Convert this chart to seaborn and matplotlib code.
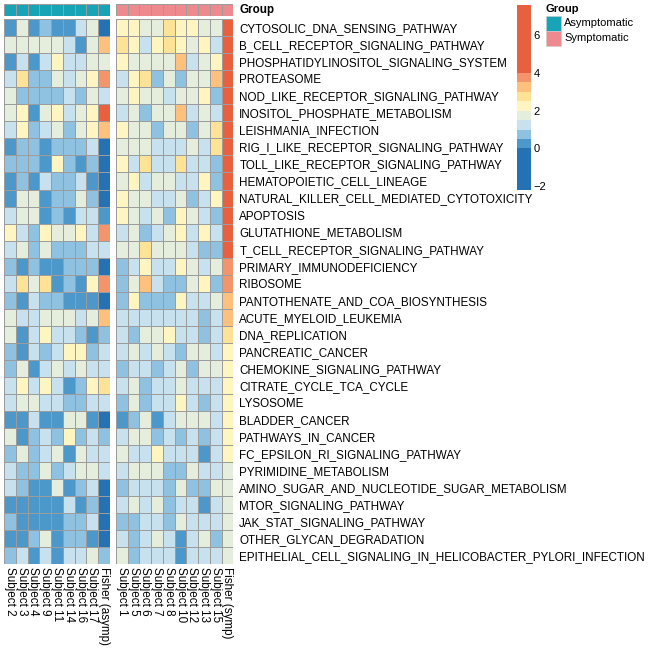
import numpy as np
import pandas as pd
import seaborn as sns
import matplotlib
matplotlib.use("Agg")
import matplotlib.pyplot as plt
from matplotlib.colors import ListedColormap, BoundaryNorm
from matplotlib.cm import ScalarMappable
from matplotlib.patches import Rectangle

pathways = [
    "CYTOSOLIC_DNA_SENSING_PATHWAY", "B_CELL_RECEPTOR_SIGNALING_PATHWAY",
    "PHOSPHATIDYLINOSITOL_SIGNALING_SYSTEM", "PROTEASOME",
    "NOD_LIKE_RECEPTOR_SIGNALING_PATHWAY", "INOSITOL_PHOSPHATE_METABOLISM",
    "LEISHMANIA_INFECTION", "RIG_I_LIKE_RECEPTOR_SIGNALING_PATHWAY",
    "TOLL_LIKE_RECEPTOR_SIGNALING_PATHWAY", "HEMATOPOIETIC_CELL_LINEAGE",
    "NATURAL_KILLER_CELL_MEDIATED_CYTOTOXICITY", "APOPTOSIS",
    "GLUTATHIONE_METABOLISM", "T_CELL_RECEPTOR_SIGNALING_PATHWAY",
    "PRIMARY_IMMUNODEFICIENCY", "RIBOSOME",
    "PANTOTHENATE_AND_COA_BIOSYNTHESIS", "ACUTE_MYELOID_LEUKEMIA",
    "DNA_REPLICATION", "PANCREATIC_CANCER", "CHEMOKINE_SIGNALING_PATHWAY",
    "CITRATE_CYCLE_TCA_CYCLE", "LYSOSOME", "BLADDER_CANCER",
    "PATHWAYS_IN_CANCER", "FC_EPSILON_RI_SIGNALING_PATHWAY",
    "PYRIMIDINE_METABOLISM", "AMINO_SUGAR_AND_NUCLEOTIDE_SUGAR_METABOLISM",
    "MTOR_SIGNALING_PATHWAY", "JAK_STAT_SIGNALING_PATHWAY",
    "OTHER_GLYCAN_DEGRADATION",
    "EPITHELIAL_CELL_SIGNALING_IN_HELICOBACTER_PYLORI_INFECTION",
]

asymp_cols = ["Subject 2", "Subject 3", "Subject 4", "Subject 9", "Subject 11",
              "Subject 14", "Subject 16", "Subject 17", "Fisher (asymp)"]
symp_cols = ["Subject 1", "Subject 5", "Subject 6", "Subject 7", "Subject 8",
             "Subject 10", "Subject 12", "Subject 13", "Subject 15", "Fisher (symp)"]

asymp_vals = [
    [0.3, 1.7, 0.3, 0.8, 0.3, 0.3, 1.2, 1.7],
    [1.7, 1.7, 1.7, 1.7, 1.7, 1.2, 0.3, 1.7],
    [0.3, 1.2, 0.3, 1.2, 2.2, 1.2, 1.2, 1.7],
    [1.2, 2.8, 0.8, 0.8, 1.7, 1.2, 1.7, 2.2],
    [1.7, 0.8, 0.8, 0.8, 0.8, 1.2, 0.8, 1.7],
    [1.7, 2.2, 0.3, 1.7, 2.2, 1.2, 1.7, 2.2],
    [1.2, 2.2, 0.8, 1.2, 1.7, 0.8, 1.7, 2.2],
    [0.3, 0.8, 0.8, 0.3, 0.8, 0.8, 0.8, 1.2],
    [0.8, 0.8, 0.8, 0.3, 2.2, 0.8, 0.3, 0.8],
    [0.3, 0.8, 0.3, 1.2, 0.8, 0.8, 1.2, 0.3],
    [0.3, 1.7, 1.7, 0.3, 0.8, 0.8, 1.7, 0.8],
    [1.2, 1.7, 1.7, 0.3, 0.8, 0.3, 1.2, 1.2],
    [2.2, 1.2, 0.8, 2.2, 1.7, 1.7, 2.2, 1.2],
    [1.2, 1.7, 0.8, 1.7, 0.8, 0.8, 0.8, 1.2],
    [0.8, 0.3, 0.8, 0.3, 0.3, 0.8, 0.8, 0.8],
    [1.2, 2.8, 1.7, 2.8, 0.3, 0.8, 0.3, 2.2],
    [0.8, 0.3, 1.2, 0.8, 0.8, 0.3, 0.3, 0.3],
    [1.7, 1.2, 1.2, 1.7, 1.7, 1.7, 1.2, 1.7],
    [1.7, 0.3, 1.2, 2.2, 1.2, 1.2, 0.8, 0.3],
    [0.8, 0.3, 1.2, 0.8, 1.2, 2.2, 2.2, 0.8],
    [0.8, 1.7, 0.3, 1.2, 1.7, 1.2, 1.7, 1.2],
    [1.2, 2.2, 1.2, 2.2, 1.2, 0.3, 0.8, 2.2],
    [1.2, 1.7, 1.7, 1.2, 1.2, 0.8, 0.8, 1.2],
    [0.3, 0.3, 1.2, 0.3, 0.3, 1.7, 1.7, 0.3],
    [1.7, 0.3, 0.8, 1.2, 0.8, 2.2, 0.8, 1.2],
    [0.8, 1.7, 0.8, 1.2, 1.7, 0.3, 1.7, 1.2],
    [1.2, 0.8, 0.8, 1.7, 0.8, 1.2, 1.7, 1.7],
    [1.2, 0.8, 0.3, 0.3, 1.7, 0.3, 0.8, 1.2],
    [0.3, 0.3, 0.3, 0.3, 0.3, 1.2, 0.3, 0.8],
    [0.8, 0.3, 0.3, 0.3, 0.3, 0.8, 0.8, 1.2],
    [0.3, 0.3, 0.8, 1.7, 0.3, 0.8, 0.8, 0.3],
    [0.8, 1.2, 0.3, 1.2, 0.3, 1.2, 1.2, 1.7],
]
fisher_asymp = [-1.6, 3.2, 1.8, 3.7, 1.3, 4.9, 3.3, -2.0, -1.9, -1.8, -1.7, 0.4,
                3.6, 1.2, -2.1, 3.8, -2.2, 3.1, 0.8, 1.1, 1.3, 2.8, 1.2, -1.9,
                0.9, 1.4, 1.1, -1.5, -2.0, -1.8, -1.7, 0.7]

symp_vals = [
    [2.2, 2.2, 1.7, 1.7, 2.8, 2.2, 2.2, 1.7, 1.7],
    [2.8, 2.2, 1.2, 2.2, 2.8, 2.2, 1.7, 2.2, 1.2],
    [2.2, 1.7, 1.7, 1.7, 1.7, 3.3, 1.2, 1.7, 2.2],
    [1.2, 2.2, 2.8, 0.8, 1.7, 0.8, 1.7, 1.7, 3.3],
    [1.7, 2.2, 1.7, 1.7, 1.2, 1.7, 1.7, 2.2, 0.8],
    [1.2, 1.7, 0.8, 1.7, 1.7, 3.3, 1.2, 1.7, 1.2],
    [2.2, 1.7, 1.7, 0.8, 1.7, 1.7, 0.8, 1.7, 2.8],
    [1.7, 1.7, 1.7, 1.2, 1.2, 1.2, 1.7, 1.2, 2.8],
    [2.2, 1.2, 2.8, 1.2, 1.2, 2.8, 1.2, 1.2, 0.8],
    [1.7, 2.2, 1.2, 1.7, 1.7, 1.2, 1.2, 2.2, 0.8],
    [2.2, 1.7, 1.7, 1.2, 1.2, 1.7, 0.8, 1.2, 2.2],
    [2.2, 1.7, 1.2, 1.7, 0.8, 2.2, 1.7, 1.2, 0.8],
    [1.2, 1.7, 0.8, 1.2, 1.7, 2.2, 1.2, 2.2, 1.2],
    [1.7, 1.7, 2.8, 1.7, 1.7, 1.7, 1.2, 0.8, 0.8],
    [0.8, 1.2, 2.2, 1.2, 1.2, 2.2, 1.7, 1.2, 1.7],
    [0.8, 1.7, 3.3, 1.2, 0.8, 0.8, 1.7, 2.2, 0.8],
    [0.8, 2.2, 0.8, 0.8, 0.8, 2.2, 1.2, 1.2, 1.7],
    [1.2, 1.2, 1.2, 1.2, 1.2, 1.2, 1.2, 0.8, 1.2],
    [1.2, 0.8, 1.7, 1.7, 2.2, 1.2, 1.2, 0.8, 1.2],
    [1.2, 1.7, 1.2, 1.7, 1.2, 0.8, 1.7, 1.7, 1.2],
    [0.8, 1.2, 1.2, 0.8, 1.2, 1.7, 0.8, 1.7, 1.7],
    [1.2, 1.7, 0.8, 1.2, 1.2, 1.7, 1.2, 1.2, 1.2],
    [0.8, 1.7, 0.8, 1.2, 1.2, 2.2, 1.2, 0.8, 1.2],
    [0.3, 0.8, 1.7, 0.3, 1.2, 1.7, 1.7, 1.7, 1.2],
    [1.2, 1.7, 1.7, 0.8, 1.2, 0.8, 1.2, 0.8, 1.2],
    [1.7, 1.2, 1.2, 2.2, 1.2, 1.2, 1.2, 0.3, 1.2],
    [1.2, 1.7, 1.7, 1.7, 0.8, 0.8, 1.7, 1.2, 1.2],
    [0.8, 1.2, 1.2, 1.2, 0.8, 1.7, 0.8, 0.8, 1.7],
    [1.2, 1.7, 1.2, 1.7, 0.8, 1.2, 1.2, 0.3, 1.2],
    [0.8, 0.8, 1.2, 1.2, 0.8, 1.7, 1.2, 1.2, 1.2],
    [1.2, 0.8, 1.2, 1.7, 1.2, 0.3, 1.2, 1.7, 0.8],
    [1.7, 0.8, 1.2, 1.2, 1.2, 0.3, 1.2, 1.2, 1.2],
]
fisher_symp = [7.6, 7.2, 6.9, 6.6, 6.3, 6.0, 5.7, 5.4, 5.2, 5.0, 4.8, 4.6,
               4.4, 4.2, 3.9, 3.6, 3.4, 3.1, 2.7, 2.45, 2.4, 2.35, 2.3, 2.2,
               2.1, 2.05, 1.95, 1.9, 1.8, 1.75, 1.65, 1.55]

groups = ["Asymptomatic", "Symptomatic"]
group_colors = ["#17A4B7", "#EE8A8D"]

breaks = [-2.2, 0, 0.5, 1, 1.5, 2, 2.5, 3, 3.5, 4, 7.6]
colors = ["#2471B4", "#4D98CB", "#8FC2E0", "#C8E1EE", "#E5EEDD",
          "#FEF5C1", "#FEE397", "#FDC07D", "#F3946A", "#E8603E"]

sns.set_style("white", {"text.color": "black", "xtick.color": "black",
                        "ytick.color": "black"})
plt.rcParams["font.family"] = ["Liberation Sans", "DejaVu Sans"]

cmap = ListedColormap(colors)
norm = BoundaryNorm(breaks, cmap.N)

df_a = pd.DataFrame(np.column_stack([np.array(asymp_vals), fisher_asymp]),
                    index=pathways, columns=asymp_cols)
df_s = pd.DataFrame(np.column_stack([np.array(symp_vals), fisher_symp]),
                    index=pathways, columns=symp_cols)

W = 650.0


def box(x0, y0, x1, y1):
    return [x0 / W, 1 - y1 / W, (x1 - x0) / W, (y1 - y0) / W]


fig = plt.figure(figsize=(6.5, 6.5), dpi=100)
ax_ann_a = fig.add_axes(box(4, 4, 110, 15.7))
ax_ann_s = fig.add_axes(box(116, 4, 233.3, 15.7))
ax_a = fig.add_axes(box(4, 19.3, 110, 564))
ax_s = fig.add_axes(box(116, 19.3, 233.3, 564))
ax_cb = fig.add_axes(box(516.7, 5, 530.7, 190))

grid = dict(linewidths=0.7, linecolor="#9c9c9c", cbar=False)
fs = 8.4

sns.heatmap(df_a, ax=ax_a, cmap=cmap, norm=norm, xticklabels=True, yticklabels=False, **grid)
sns.heatmap(df_s, ax=ax_s, cmap=cmap, norm=norm, xticklabels=True, yticklabels=True, **grid)

ann_cmap = ListedColormap(group_colors)
sns.heatmap(np.zeros((1, len(asymp_cols))), ax=ax_ann_a, cmap=ann_cmap, vmin=0, vmax=1,
            xticklabels=False, yticklabels=False, **grid)
sns.heatmap(np.ones((1, len(symp_cols))), ax=ax_ann_s, cmap=ann_cmap, vmin=0, vmax=1,
            xticklabels=False, yticklabels=False, **grid)

for ax in (ax_a, ax_s):
    ax.tick_params(axis="x", length=0, pad=2, labelsize=fs, labelrotation=270)
    for t in ax.get_xticklabels():
        t.set_ha("center")
        t.set_va("top")
    ax.set_xlabel("")
    ax.set_ylabel("")

ax_s.tick_params(axis="y", left=False, right=False, labelleft=False, labelright=True,
                 labelrotation=0, labelsize=fs, pad=4.3, length=0)
for t in ax_s.get_yticklabels():
    t.set_ha("left")

fig.text(239 / W, 1 - 10 / W, "Group", fontsize=fs, fontweight="bold", va="center", ha="left")

# colour key
cb = fig.colorbar(ScalarMappable(norm=norm, cmap=cmap), cax=ax_cb,
                  spacing="proportional", ticks=[-2, 0, 2, 4, 6])
cb.outline.set_visible(False)
ax_cb.minorticks_off()
ax_cb.tick_params(which="both", length=0, labelsize=8, pad=2)

# group legend
fig.text(546 / W, 1 - 8.5 / W, "Group", fontsize=8, fontweight="bold", va="center", ha="left")
for i, (g, c) in enumerate(zip(groups, group_colors)):
    y0 = 16 + i * 14.8
    fig.patches.append(Rectangle((546 / W, 1 - (y0 + 14.8) / W), 14.7 / W, 14.8 / W,
                                 transform=fig.transFigure, facecolor=c,
                                 edgecolor="#cccccc", linewidth=0.4))
    fig.text(564 / W, 1 - (y0 + 7.4) / W, g, fontsize=8, va="center", ha="left")

fig.savefig("out.png", dpi=100)
